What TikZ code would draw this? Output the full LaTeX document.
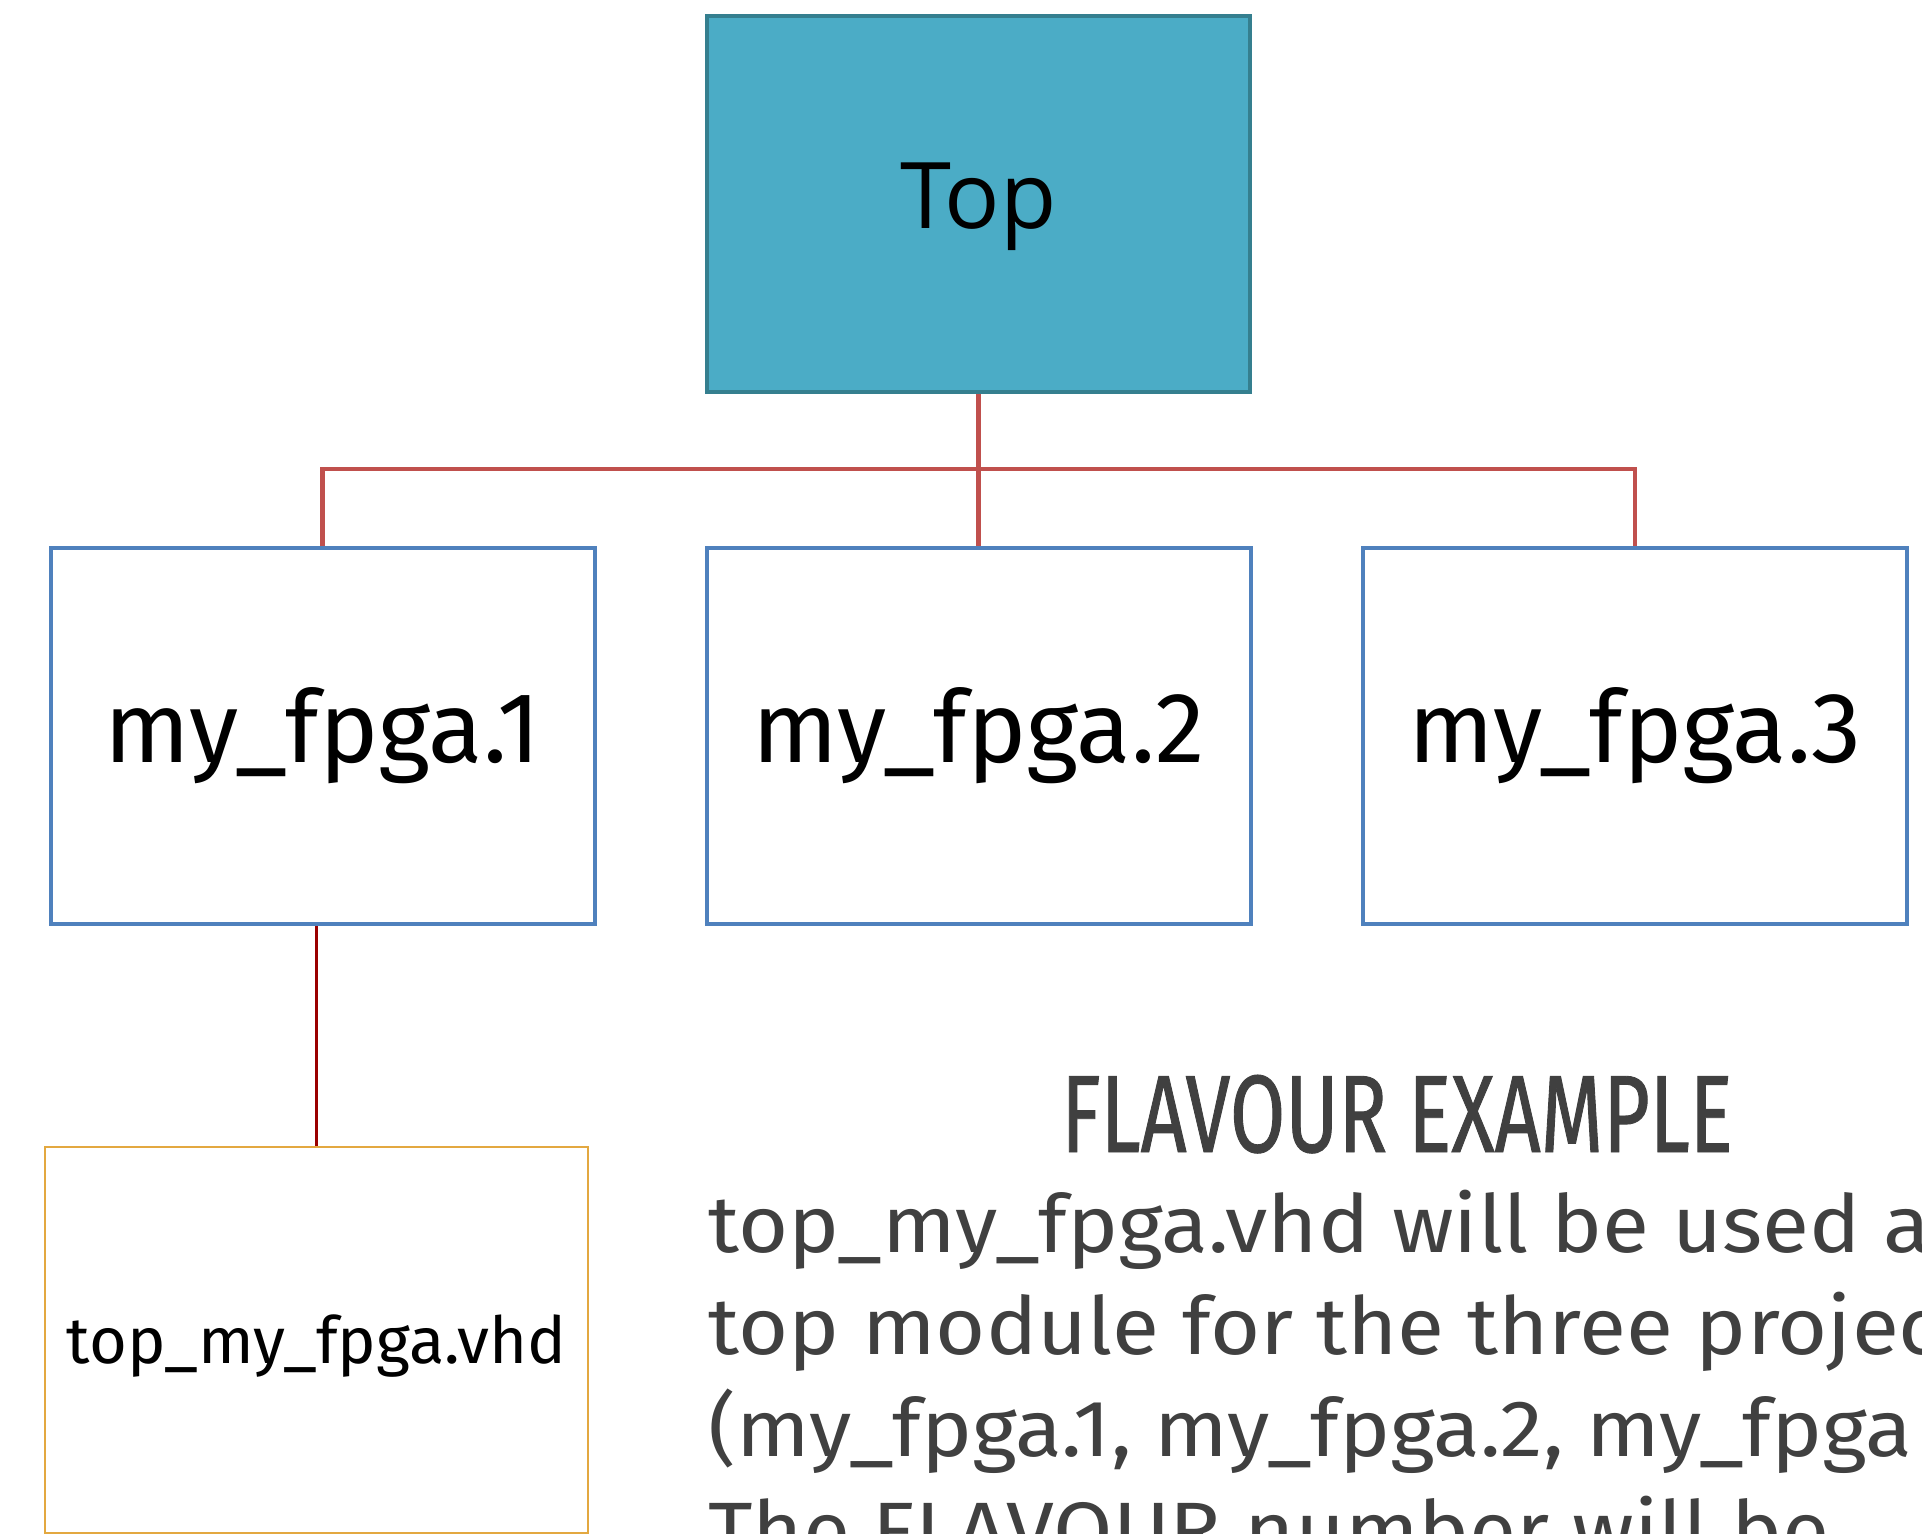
\documentclass[tikz,border=0pt]{standalone}
\usepackage{fontspec}
\setmainfont{Fira Sans}
\newfontfamily\topfont{Open Sans}
\newfontfamily\bodyfont[FakeStretch=1.075]{Fira Sans}
\newfontfamily\headfont[FakeStretch=0.73,FakeBold=0.8]{Fira Sans}
\definecolor{topfill}{HTML}{4BACC6}
\definecolor{topline}{HTML}{357F8F}
\definecolor{busred}{HTML}{C0504D}
\definecolor{boxblue}{HTML}{4F81BD}
\definecolor{darkred}{HTML}{9A0000}
\definecolor{gold}{HTML}{E3A840}
\definecolor{textgrey}{HTML}{404040}
\begin{document}
\begin{tikzpicture}[x=0.5pt,y=-0.5pt,
  topbox/.style={draw=topline,fill=topfill,line width=2.4pt,minimum width=271.5pt,minimum height=188pt,inner sep=0pt,font=\topfont\fontsize{46}{55}\selectfont},
  fpgabox/.style={draw=boxblue,line width=2pt,minimum width=272pt,minimum height=188pt,inner sep=0pt,font=\fontsize{50}{60}\selectfont},
  vhdbox/.style={draw=gold,line width=1.1pt,minimum width=271.5pt,minimum height=193pt,inner sep=0pt,font=\fontsize{32.5}{39}\selectfont},
  busline/.style={draw=busred,line width=2.2pt},
  downline/.style={draw=darkred,line width=1.8pt}]
\clip (0,0) rectangle (1922,1533);
\fill[white] (0,0) rectangle (1922,1533);
\node[topbox] (top) at (978.5,204) {\raisebox{-12pt}[0pt][0pt]{Top}};
\node[fpgabox] (c1) at (322.5,736) {\raisebox{-13pt}[0pt][0pt]{my\_fpga.1}};
\node[fpgabox] (c2) at (978.5,736) {\raisebox{-13pt}[0pt][0pt]{my\_fpga.2}};
\node[fpgabox] (c3) at (1635,736) {\raisebox{-13pt}[0pt][0pt]{my\_fpga.3}};
\node[vhdbox] (vhd) at (316.5,1340) {\raisebox{-11.5pt}[0pt][0pt]{top\_my\_fpga.vhd}};
\coordinate (bus) at (978.5,469);
\draw[busline] (c1.north) -- (c1.north |- bus) -- (c3.north |- bus) -- (c3.north);
\draw[busline] (top.south) -- (c2.north);
\draw[downline] (vhd.north) -- (vhd.north |- c1.south);
\node[font=\headfont\fontsize{55}{66}\selectfont,text=textgrey,anchor=base] (head) at (1397,1152) {FLAVOUR EXAMPLE};
\node[font=\bodyfont\fontsize{40}{51}\selectfont,text=textgrey,anchor=north west,align=left,inner sep=0pt] (body) at (708,1190)
 {top\_my\_fpga.vhd will be used a\\top module for the three projec\\(my\_fpga.1, my\_fpga.2, my\_fpga\\The FLAVOUR number will be};
\end{tikzpicture}
\end{document}
